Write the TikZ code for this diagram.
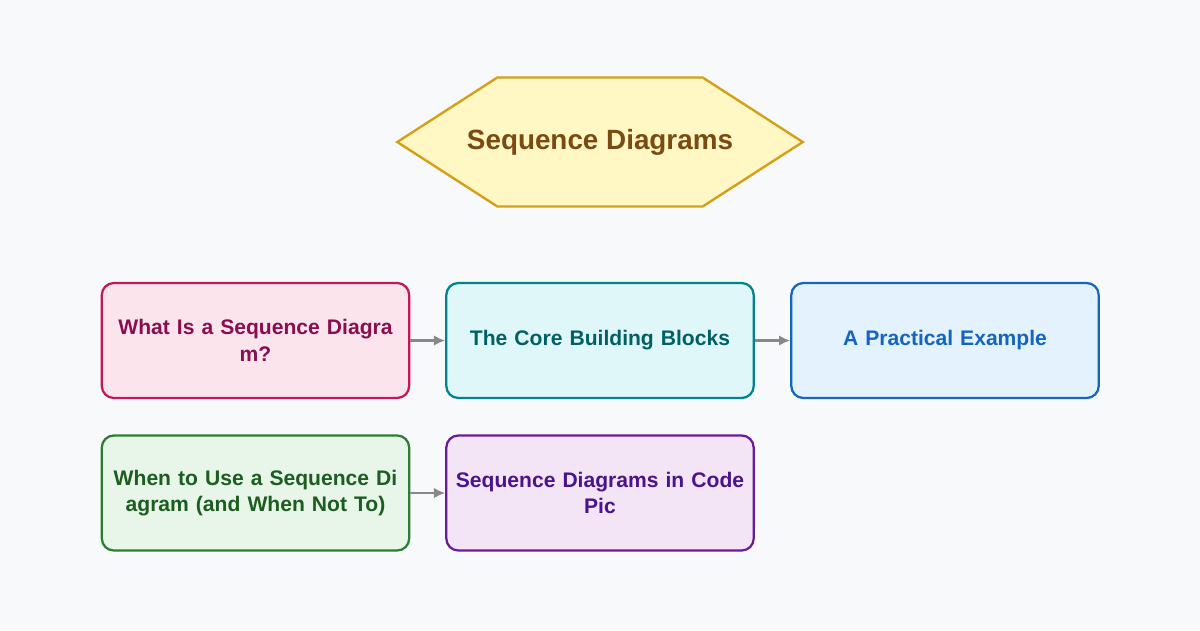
\documentclass[tikz,border=0pt]{standalone}
\usepackage{fontspec}
\setmainfont{Liberation Sans}
\usepackage{tikz}
\usetikzlibrary{shapes.symbols, arrows.meta, positioning, calc}
\usepackage{xcolor}
\definecolor{bgpage}{HTML}{F8F9FA}
\definecolor{hexfill}{HTML}{FFF8C4}
\definecolor{hexdraw}{HTML}{D4A019}
\definecolor{hextext}{HTML}{7A4A12}
\definecolor{pinkfill}{HTML}{FCE4EC}
\definecolor{pinkdraw}{HTML}{C2185B}
\definecolor{pinktext}{HTML}{880E4F}
\definecolor{cyanfill}{HTML}{E0F7FA}
\definecolor{cyandraw}{HTML}{00838F}
\definecolor{cyantext}{HTML}{006064}
\definecolor{bluefill}{HTML}{E3F2FD}
\definecolor{bluedraw}{HTML}{1565C0}
\definecolor{bluetext}{HTML}{1565C0}
\definecolor{greenfill}{HTML}{E8F5E9}
\definecolor{greendraw}{HTML}{2E7D32}
\definecolor{greentext}{HTML}{1B5E20}
\definecolor{purplefill}{HTML}{F3E5F5}
\definecolor{purpledraw}{HTML}{6A1B9A}
\definecolor{purpletext}{HTML}{4A148C}
\definecolor{arrowgray}{HTML}{888888}
\tikzstyle{hexa} = [signal, signal to=east and west, signal pointer angle=65.6,
    minimum height=3.225cm, inner xsep=-0.76cm, inner ysep=0pt,
    draw=hexdraw, fill=hexfill, line width=1.7pt, text=hextext,
    font=\bfseries\fontsize{19.8}{24}\selectfont]
\tikzstyle{topic} = [rectangle, rounded corners=0.3cm, minimum width=7.675cm,
    minimum height=2.875cm, text width=7.45cm, align=center, line width=1.6pt,
    font=\bfseries\fontsize{15}{19}\selectfont]
\tikzstyle{arrow} = [line width=1.5pt, draw=arrowgray, -{Latex[length=2.8mm, width=2.6mm]}]

\begin{document}
\begin{tikzpicture}
\useasboundingbox[fill=bgpage] (0,0) rectangle (30,-15.75);
% --- titulo ---
\node (title) [hexa] at (15,-3.55) {Sequence Diagrams};

% --- fila superior ---
\node (whatis) [topic, draw=pinkdraw, fill=pinkfill, text=pinktext] at (6.3875,-8.5125) {What Is a Sequence Diagra\\m?};
\node (blocks) [topic, draw=cyandraw, fill=cyanfill, text=cyantext] at (15,-8.5125) {The Core Building Blocks};
\node (example) [topic, draw=bluedraw, fill=bluefill, text=bluetext] at (23.625,-8.5125) {A Practical Example};

% --- fila inferior ---
\node (whentouse) [topic, draw=greendraw, fill=greenfill, text=greentext] at (6.3875,-12.325) {When to Use a Sequence Di\\agram (and When Not To)};
\node (incode) [topic, draw=purpledraw, fill=purplefill, text=purpletext] at (15,-12.325) {Sequence Diagrams in Code\\Pic};

% --- flechas ---
\draw[arrow] (whatis) -- (blocks);
\draw[arrow] (blocks) -- (example);
\draw[arrow] (whentouse) -- (incode);
\end{tikzpicture}
\end{document}
